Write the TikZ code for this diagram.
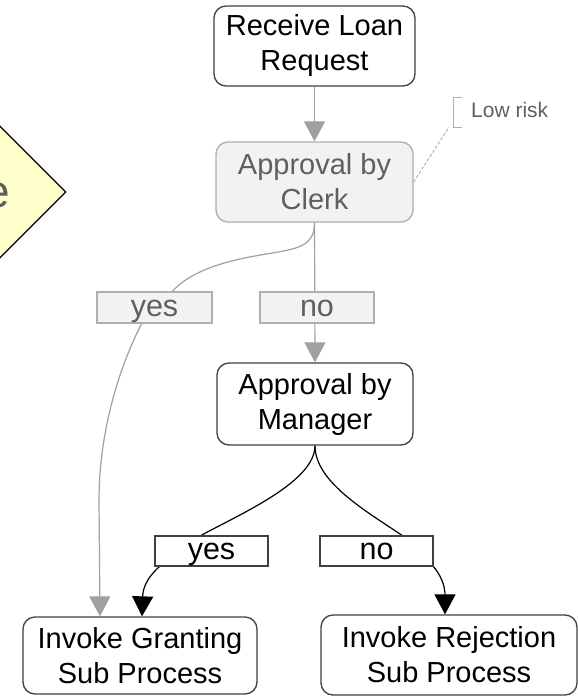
\documentclass[tikz,border=0pt]{standalone}
\usepackage{fontspec}
\setmainfont{Liberation Sans}
\usetikzlibrary{arrows.meta,shapes.geometric,backgrounds,calc}

\definecolor{inkgray}{RGB}{95,95,95}
\definecolor{linegray}{RGB}{160,160,160}
\definecolor{palefill}{RGB}{242,242,242}
\definecolor{boxgray}{RGB}{175,175,175}
\definecolor{darkline}{RGB}{45,45,45}
\definecolor{gatefill}{RGB}{255,255,204}

\begin{document}
\begin{tikzpicture}[x=1pt,y=-1pt,
  task/.style={rounded corners=12pt, draw=black!75, line width=1.3pt, fill=white,
    align=center, inner sep=0pt, font=\fontsize{29}{35}\selectfont},
  softtask/.style={task, draw=boxgray, fill=palefill, text=inkgray},
  guard/.style={draw=black!75, line width=1.2pt, fill=white, inner sep=0pt,
    text height=17pt, text depth=0pt,
    minimum width=113pt, minimum height=30pt, font=\fontsize{30.5}{34}\selectfont},
  softguard/.style={guard, draw=boxgray, fill=palefill, text=inkgray},
  darkedge/.style={draw=darkline, line width=1.2pt,
    -{Triangle[length=20pt,width=21pt]}, black},
  grayedge/.style={draw=linegray, line width=1.2pt,
    -{Triangle[length=20pt,width=21pt]}, linegray},
]
\useasboundingbox (0,0) rectangle (578,696);

% decision gateway, cut by the page edge
\begin{scope}
  \clip (0,0) rectangle (578,696);
  \node[diamond, draw=black, fill=gatefill, line width=1.3pt,
        minimum width=272pt, minimum height=272pt, inner sep=0pt] (gate) at (-70,192) {};
  \node[anchor=base east, inner sep=0pt, text=inkgray,
        font=\fontsize{46}{50}\selectfont] (gatetext) at (10,207) {e};
\end{scope}

% activities
\node[task, minimum width=201pt, minimum height=80pt] (recv) at (314.5,46) {Receive Loan\\Request};
\node[softtask, minimum width=197pt, minimum height=80pt] (clerk) at (314.5,182) {Approval by\\Clerk};
\node[task, minimum width=196pt, minimum height=82pt] (mgr) at (315,404) {Approval by\\Manager};
\node[task, minimum width=234pt, minimum height=77pt] (grant) at (140,655.5) {Invoke Granting\\Sub Process};
\node[task, minimum width=256pt, minimum height=80pt] (rej) at (449,655) {Invoke Rejection\\Sub Process};

% branch conditions
\node[softguard, minimum width=115pt, minimum height=31pt] (yes1) at (154.5,307.5) {yes};
\node[softguard, minimum width=114pt, minimum height=31pt] (no1) at (317,307.5) {no};
\node[guard] (yes2) at (211.5,551) {yes};
\node[guard] (no2) at (376.5,551) {no};

% annotation
\node[anchor=base west, inner sep=0pt, text=inkgray,
      font=\fontsize{21}{24}\selectfont] (note) at (471,117) {Low risk};
\draw[boxgray, line width=1pt]
  ($(note.base west)+(-9,-20)$) -- ($(note.base west)+(-18,-20)$)
  -- ($(note.base west)+(-18,10)$) coordinate (notefoot) -- ($(note.base west)+(-9,10)$);
\draw[boxgray, line width=1pt, dash pattern=on 3pt off 2pt]
  (clerk.east) -- ($(notefoot)+(-4,0)$);

% sequence flows
\begin{scope}[on background layer]
  \draw[grayedge] (recv.south) -- (clerk.north);
  \draw[grayedge] (clerk.south) -- (mgr.north);
  \draw[grayedge] (clerk.south) .. controls (314.5,250) and (292,249) .. (255,256)
    .. controls (215,263) and (180,276) .. (166,300) -- (142,323)
    .. controls (115,375) and (99,440) .. (99,500) -- ($(grant.north)+(-40,0)$);
  \draw[darkedge] (mgr.south) .. controls (315,482) and (240,514) .. (200,536)
    -- (160,566) .. controls (150,575) and (143,585) .. ($(grant.north)+(2,0)$);
  \draw[darkedge] (mgr.south) .. controls (315,482) and (366,511) .. (403,536)
    -- (433,566) .. controls (440,574) and (445,585) .. ($(rej.north)+(-4,0)$);
\end{scope}
\end{tikzpicture}
\end{document}
